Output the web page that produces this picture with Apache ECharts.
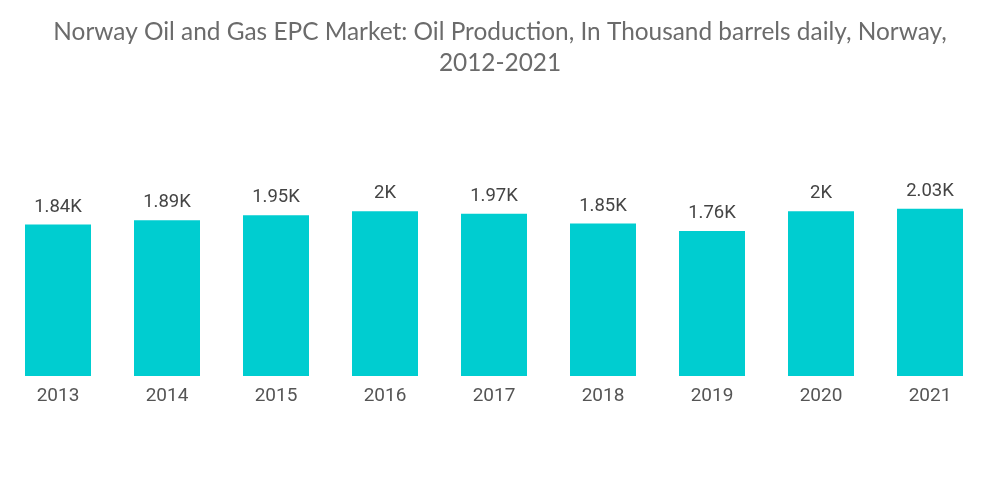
<!DOCTYPE html>
<html>
<head>
<meta charset="utf-8">
<script src="https://cdn.jsdelivr.net/npm/echarts@6/dist/echarts.min.js"></script>
<style>html,body{margin:0;padding:0;background:#fff;}#c{width:1000px;height:504px;}</style>
</head>
<body>
<div id="c"></div>
<script>
const titleText = 'Norway Oil and Gas EPC Market: Oil Production, In Thousand barrels daily, Norway,\n2012-2021';
const categories = ['2013','2014','2015','2016','2017','2018','2019','2020','2021'];
const production = [1840, 1890, 1950, 2000, 1970, 1850, 1760, 2000, 2030];

function fmtK(v){
  return (Math.round(v/10)/100) + 'K';
}

const chart = echarts.init(document.getElementById('c'), null, {renderer:'canvas'});
chart.setOption({
  animation:false,
  backgroundColor:'#ffffff',
  title:{
    text: titleText,
    left:'center',
    top:12,
    textStyle:{fontFamily:'Lato', fontSize:24.4, fontWeight:'normal', color:'#6b6b6b', lineHeight:31}
  },
  grid:{left:3.5, right:15.5, top:170, bottom:128, containLabel:false},
  xAxis:{
    type:'category',
    data:categories,
    axisLine:{show:false},
    axisTick:{show:false},
    axisLabel:{fontFamily:'Roboto', fontSize:19, color:'#555555', margin:11}
  },
  yAxis:{
    type:'value', min:0, max:2500,
    show:false,
    splitLine:{show:false}
  },
  series:[{
    type:'bar',
    data:production,
    barWidth:66,
    itemStyle:{color:'#00CDD0'},
    label:{
      show:true, position:'top', distance:8,
      fontFamily:'Roboto', fontSize:18.5, color:'#444444',
      formatter:p=>fmtK(p.value)
    }
  }]
});
</script>
</body>
</html>
